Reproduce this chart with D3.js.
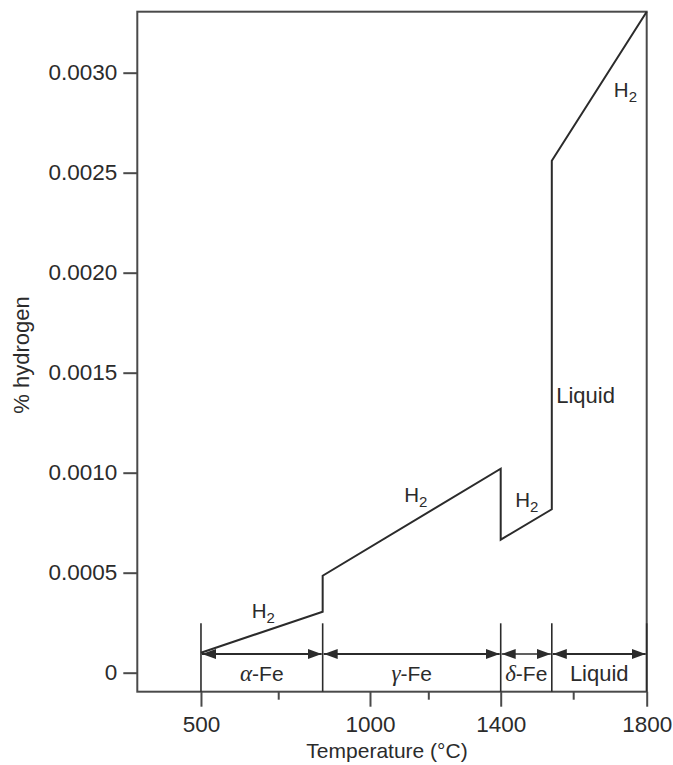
<!DOCTYPE html>
<html>
<head>
<meta charset="utf-8">
<script src="https://cdn.jsdelivr.net/npm/d3@7"></script>
<style>
  html, body { margin: 0; padding: 0; background: #fff; }
  svg { display: block; }
  text { font-family: "Liberation Sans", Arial, Helvetica, sans-serif; fill: #2b2b2b; }
</style>
</head>
<body>
<svg id="chart" width="673" height="765"></svg>
<script>
// ---- data ----
const temperature = [500, 860, 860, 1400, 1400, 1540, 1540, 1800];           // °C
const hydrogen    = [0.0001, 0.000305, 0.000485, 0.00102, 0.000665, 0.000817, 0.00256, 0.003305]; // %
const phaseNames  = ["α-Fe", "γ-Fe", "δ-Fe", "Liquid"];
const phaseGreek  = ["α", "γ", "δ", ""];
const phaseRest   = ["-Fe", "-Fe", "-Fe", "Liquid"];
const phaseBounds = [500, 860, 1400, 1540, 1800];
const xTickValues = [500, 1000, 1400, 1800];
const xTickLabels = ["500", "1000", "1400", "1800"];
const xMinorTicks = [730, 1180, 1600];
const yTickValues = [0, 0.0005, 0.0010, 0.0015, 0.0020, 0.0025, 0.0030];
const yTickLabels = ["0", "0.0005", "0.0010", "0.0015", "0.0020", "0.0025", "0.0030"];
const yDomain     = [-0.000095, 0.003305];
// H2 label anchors (temperature, hydrogen)
const h2Temp      = [650, 1105, 1440, 1710];
const h2Hyd       = [0.000275, 0.000855, 0.000830, 0.00288];
const liquidLabel = {t: 1552, h: 0.00135, text: "Liquid"};

// ---- layout ----
const svg = d3.select("#chart");
const margin = {left: 137.3, top: 11.7, right: 26.3, bottom: 73.3};
const W = 673 - margin.left - margin.right;
const H = 765 - margin.top - margin.bottom;
const g = svg.append("g").attr("transform", `translate(${margin.left},${margin.top})`);

// the original figure's temperature axis is piecewise (schematic)
const xFrac = [0.125, 0.4568, 0.7134, 1.0];
const x = d3.scaleLinear().domain(xTickValues).range(xFrac.map(f => f * W));
const y = d3.scaleLinear().domain(yDomain).range([H, 0]);

const ink = "#2b2b2b";
const frameInk = "#4a4a4a";

// frame
g.append("rect").attr("x", 0).attr("y", 0).attr("width", W).attr("height", H)
  .attr("fill", "none").attr("stroke", frameInk).attr("stroke-width", 2);

// y axis
const yAxis = d3.axisLeft(y).tickValues(yTickValues)
  .tickFormat((d, i) => yTickLabels[i]).tickSize(14).tickPadding(6);
const ya = g.append("g").call(yAxis);
ya.select(".domain").remove();
ya.selectAll("line").attr("stroke", frameInk).attr("stroke-width", 2);
ya.selectAll("text").style("font-size", "22.5px").attr("fill", ink);

// x axis (major)
const xAxis = d3.axisBottom(x).tickValues(xTickValues)
  .tickFormat((d, i) => xTickLabels[i]).tickSize(15).tickPadding(9);
const xa = g.append("g").attr("transform", `translate(0,${H})`).call(xAxis);
xa.select(".domain").remove();
xa.selectAll("line").attr("stroke", frameInk).attr("stroke-width", 2);
xa.selectAll("text").style("font-size", "22.5px").attr("fill", ink);

// x minor ticks
g.append("g").selectAll("line").data(xMinorTicks).join("line")
  .attr("x1", d => x(d)).attr("x2", d => x(d))
  .attr("y1", H).attr("y2", H + 8)
  .attr("stroke", frameInk).attr("stroke-width", 2);

// axis titles
svg.append("text").attr("x", margin.left + W / 2 - 5).attr("y", 758)
  .attr("text-anchor", "middle").style("font-size", "21px").text("Temperature (°C)");
svg.append("text").attr("transform", `translate(29,355) rotate(-90)`)
  .attr("text-anchor", "middle").style("font-size", "22px").text("% hydrogen");

// phase boundaries
const boundTop = H - 68.4;
const arrowY = H - 37.7;
g.append("g").selectAll("line").data(phaseBounds).join("line")
  .attr("x1", d => x(d)).attr("x2", d => x(d))
  .attr("y1", boundTop).attr("y2", H)
  .attr("stroke", ink).attr("stroke-width", 1.6);

// arrow markers
const defs = svg.append("defs");
defs.append("marker").attr("id", "ah-end").attr("markerUnits", "userSpaceOnUse")
  .attr("viewBox", "0 -5 14 10").attr("refX", 14).attr("refY", 0)
  .attr("markerWidth", 14).attr("markerHeight", 10).attr("orient", "auto")
  .append("path").attr("d", "M0,-5L14,0L0,5Z").attr("fill", ink);
defs.append("marker").attr("id", "ah-start").attr("markerUnits", "userSpaceOnUse")
  .attr("viewBox", "0 -5 14 10").attr("refX", 0).attr("refY", 0)
  .attr("markerWidth", 14).attr("markerHeight", 10).attr("orient", "auto")
  .append("path").attr("d", "M14,-5L0,0L14,5Z").attr("fill", ink);

const phases = phaseNames.map((n, i) => ({name: n, a: phaseBounds[i], b: phaseBounds[i + 1], greek: phaseGreek[i], rest: phaseRest[i]}));
g.append("g").selectAll("line").data(phases).join("line")
  .attr("x1", d => x(d.a) + 1).attr("x2", d => x(d.b) - 1)
  .attr("y1", arrowY).attr("y2", arrowY)
  .attr("stroke", ink).attr("stroke-width", (d, i) => i === 2 ? 1.3 : 2.2)
  .attr("marker-start", "url(#ah-start)").attr("marker-end", "url(#ah-end)");

const pl = g.append("g").selectAll("text").data(phases).join("text")
  .attr("x", d => (x(d.a) + x(d.b)) / 2).attr("y", H - 11)
  .attr("text-anchor", "middle").style("font-size", d => d.greek ? "21px" : "22px");
pl.append("tspan").text(d => d.greek)
  .style("font-family", "'Liberation Serif', 'DejaVu Serif', serif").style("font-style", "italic").style("font-size", "23px");
pl.append("tspan").text(d => d.rest);

// solubility curve
const pts = temperature.map((t, i) => [t, hydrogen[i]]);
g.append("path").datum(pts)
  .attr("d", d3.line().x(d => x(d[0])).y(d => y(d[1])))
  .attr("fill", "none").attr("stroke", ink).attr("stroke-width", 2).attr("stroke-linejoin", "miter");

// H2 labels
const h2 = g.append("g").selectAll("text").data(h2Temp.map((t, i) => [t, h2Hyd[i]])).join("text")
  .attr("x", d => x(d[0])).attr("y", d => y(d[1])).style("font-size", "20.5px");
h2.append("tspan").text("H");
h2.append("tspan").text("2").attr("dy", 5).style("font-size", "15px");

// Liquid label
g.append("text").attr("x", x(liquidLabel.t)).attr("y", y(liquidLabel.h))
  .style("font-size", "22px").text(liquidLabel.text);
</script>
</body>
</html>
